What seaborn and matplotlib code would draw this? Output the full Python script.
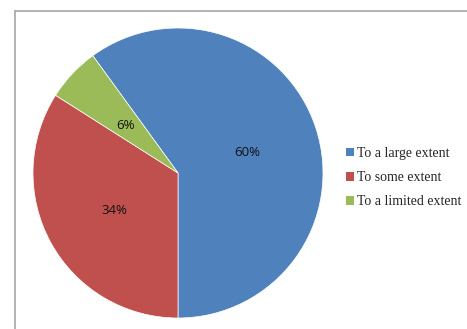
import matplotlib
matplotlib.use("Agg")
import matplotlib.pyplot as plt
from matplotlib.lines import Line2D
from matplotlib.patches import Patch
import seaborn as sns

categories = ["To a large extent", "To some extent", "To a limited extent"]
shares = [60, 34, 6]
colors = ["#4F81BD", "#C0504D", "#9BBB59"]

sns.set_theme(style="white")
palette = sns.color_palette(colors)

W, H = 467, 329
fig = plt.figure(figsize=(W / 100, H / 100), dpi=100)

# chart area border (top and left edges)
fig.add_artist(Line2D([15 / W, 1.0], [1 - 11 / H, 1 - 11 / H], color="#A6A6A6", lw=1.2))
fig.add_artist(Line2D([15 / W, 15 / W], [0.0, 1 - 11 / H], color="#A6A6A6", lw=1.2))

cx, cy, r = 178, 173, 145
ax = fig.add_axes([(cx - r) / W, (H - cy - r) / H, 2 * r / W, 2 * r / H])
wedges, _, autotexts = ax.pie(
    shares,
    colors=palette,
    startangle=126,
    counterclock=False,
    autopct=lambda p: f"{p:.0f}%",
    pctdistance=0.5,
    wedgeprops=dict(linewidth=0.5, edgecolor="white"),
    textprops=dict(fontsize=9.5, family="Open Sans", color="#111111"),
)
for t in autotexts:
    t.set_y(t.get_position()[1] - 0.015)
ax.set_xlim(-1, 1)
ax.set_ylim(-1, 1)
ax.set_aspect("equal")
ax.axis("off")

handles = [Patch(facecolor=c, edgecolor="none") for c in palette]
fig.legend(
    handles,
    categories,
    loc="upper left",
    bbox_to_anchor=(339 / W, 1 - 140 / H),
    frameon=False,
    handlelength=0.6,
    handleheight=0.6,
    handletextpad=0.2,
    labelspacing=0.8,
    borderpad=0,
    prop=dict(family="Liberation Serif", size=10),
)

fig.savefig("out.png", dpi=100)
